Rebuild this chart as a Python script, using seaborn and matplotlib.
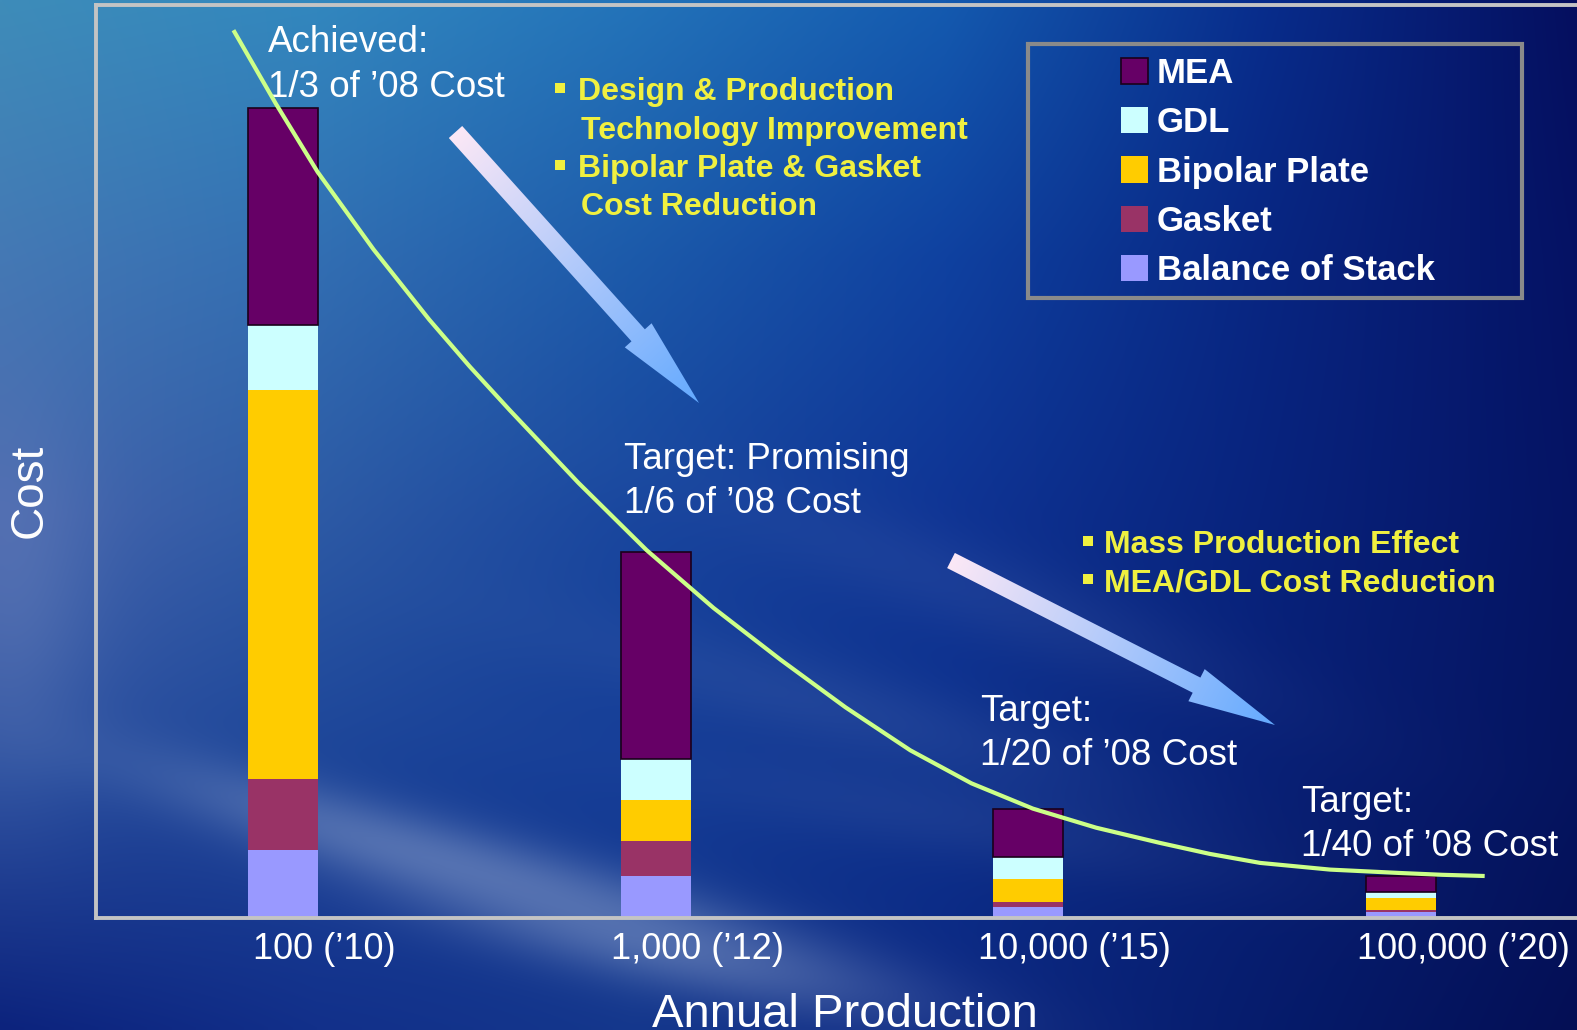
import numpy as np
import pandas as pd
import matplotlib
matplotlib.use("Agg")
import matplotlib.pyplot as plt
import seaborn as sns
from matplotlib.patches import Polygon, Rectangle

# ---------------- data ----------------
production_labels = ["100 (\u201910)", "1,000 (\u201912)", "10,000 (\u201915)", "100,000 (\u201920)"]
stack_order = ["Balance of Stack", "Gasket", "Bipolar Plate", "GDL", "MEA"]      # bottom -> top
legend_order = ["MEA", "GDL", "Bipolar Plate", "Gasket", "Balance of Stack"]
balance_of_stack = [68, 42, 11, 6.5]
gasket = [71.5, 35, 5, 2]
bipolar_plate = [388.5, 41, 23, 12]
gdl = [64.7, 40.7, 22, 5.3]
mea = [217, 207.6, 47.7, 16]
# cost trend curve (x in category units, y in cost units)
trend_x = [-0.133, -0.020, 0.093, 0.243, 0.393, 0.501, 0.609, 0.793, 0.976, 1.156,
           1.336, 1.510, 1.684, 1.848, 2.013, 2.183, 2.353, 2.488, 2.623, 2.811,
           2.999, 3.112, 3.226]
trend_y = [887.8, 814.8, 746.0, 668.6, 598.2, 551.6, 507.7, 435.2, 367.9, 310.0,
           258.2, 210.7, 167.7, 134.7, 109.4, 90.3, 75.2, 64.1, 55.1, 48.4,
           45.0, 43.2, 42.0]

component_colors = {"MEA": "#660066", "GDL": "#ccffff", "Bipolar Plate": "#ffcc00",
                    "Gasket": "#993366", "Balance of Stack": "#9999ff"}

df = pd.DataFrame({"production": production_labels,
                   "Balance of Stack": balance_of_stack, "Gasket": gasket,
                   "Bipolar Plate": bipolar_plate, "GDL": gdl, "MEA": mea})

# ---------------- figure ----------------
plt.rcParams["font.family"] = ["Liberation Sans", "DejaVu Sans"]
W, H = 1577, 1030
fig = plt.figure(figsize=(W / 100, H / 100), dpi=100)

# background (sky gradient) axes in pixel coordinates
ax_bg = fig.add_axes([0, 0, 1, 1], zorder=0)
ax_bg.axis("off")

grid = np.array([
    [(62, 140, 185), (50, 135, 190), (35, 115, 185), (20, 90, 175), (8, 45, 140), (5, 15, 95)],
    [(68, 120, 180), (50, 110, 178), (28, 90, 170), (15, 65, 160), (8, 38, 130), (5, 18, 100)],
    [(70, 100, 172), (45, 90, 165), (25, 70, 158), (15, 52, 148), (8, 35, 125), (5, 20, 100)],
    [(42, 78, 158), (28, 68, 152), (20, 60, 150), (12, 48, 140), (8, 32, 118), (5, 20, 95)],
    [(12, 35, 125), (18, 48, 138), (20, 55, 140), (12, 40, 130), (6, 28, 108), (4, 15, 85)],
], dtype=float) / 255.0


def bilinear(g, h, w):
    r, c, _ = g.shape
    yy = np.linspace(0, r - 1, h)
    xx = np.linspace(0, c - 1, w)
    y0 = np.clip(np.floor(yy).astype(int), 0, r - 2)
    x0 = np.clip(np.floor(xx).astype(int), 0, c - 2)
    fy = (yy - y0)[:, None, None]
    fx = (xx - x0)[None, :, None]
    g00 = g[y0][:, x0]
    g01 = g[y0][:, x0 + 1]
    g10 = g[y0 + 1][:, x0]
    g11 = g[y0 + 1][:, x0 + 1]
    return g00 * (1 - fx) * (1 - fy) + g01 * fx * (1 - fy) + g10 * (1 - fx) * fy + g11 * fx * fy


bh, bw = 206, 316
bg = bilinear(grid, bh, bw)
PX, PY = np.meshgrid(np.linspace(0, W, bw), np.linspace(0, H, bh))
cloud_col = np.array([175, 192, 222]) / 255.0
clouds = [  # cx, cy, sx, sy, angle(deg), strength
    (520, 880, 200, 28, 15, 0.30),
    (670, 955, 180, 28, 12, 0.30),
    (330, 830, 150, 26, 18, 0.20),
    (850, 712, 200, 32, 15, 0.10),
    (15, 600, 55, 130, 0, 0.16),
    (1000, 600, 200, 32, 20, 0.08),
    (950, 820, 200, 28, 10, 0.08),
]
for cx, cy, sx, sy, ang, a in clouds:
    th = np.deg2rad(ang)
    dx, dy = PX - cx, PY - cy
    u = dx * np.cos(th) + dy * np.sin(th)
    v = -dx * np.sin(th) + dy * np.cos(th)
    gm = (a * np.exp(-(u ** 2 / (2 * sx ** 2) + v ** 2 / (2 * sy ** 2))))[..., None]
    bg = bg * (1 - gm) + cloud_col * gm
ax_bg.imshow(np.clip(bg, 0, 1), extent=(0, W, H, 0), aspect="auto",
             interpolation="bilinear", zorder=0)


def gradient_arrow(axb, tail, tip, shaft_w, head_w, head_len, c_tail, c_tip):
    tail = np.array(tail, float)
    tip = np.array(tip, float)
    d = tip - tail
    L = np.hypot(*d)
    u = d / L
    n = np.array([-u[1], u[0]])
    base = tip - u * head_len
    pts = [tail + n * shaft_w / 2, base + n * shaft_w / 2, base + n * head_w / 2, tip,
           base - n * head_w / 2, base - n * shaft_w / 2, tail - n * shaft_w / 2]
    poly = Polygon(pts, closed=True, facecolor="none", edgecolor="none")
    axb.add_patch(poly)
    xs = [p[0] for p in pts]
    ys = [p[1] for p in pts]
    x0, x1, y0, y1 = min(xs), max(xs), min(ys), max(ys)
    X, Y = np.meshgrid(np.linspace(x0, x1, int(x1 - x0) + 1), np.linspace(y0, y1, int(y1 - y0) + 1))
    t = np.clip(((X - tail[0]) * u[0] + (Y - tail[1]) * u[1]) / L, 0, 1)[..., None]
    img = np.array(c_tail) / 255.0 * (1 - t) + np.array(c_tip) / 255.0 * t
    im = axb.imshow(img, extent=(x0, x1, y1, y0), origin="upper", aspect="auto",
                    interpolation="bilinear", zorder=2)
    im.set_clip_path(poly)


gradient_arrow(ax_bg, (455.5, 132), (699, 403), 18, 36, 91, (252, 232, 246), (100, 170, 255))
gradient_arrow(ax_bg, (951, 560.5), (1275, 725), 17, 36, 88, (252, 232, 246), (100, 170, 255))

# legend frame
ax_bg.add_patch(Rectangle((1028, 44), 494, 254, fill=False, edgecolor="#8a8a8a", lw=3, zorder=3))

white_txt = dict(color="white", fontsize=26.5, va="baseline", ha="left", zorder=4)
ax_bg.text(267.5, 52, "Achieved:", **white_txt)
ax_bg.text(267.5, 97, "1/3 of \u201908 Cost", **white_txt)
ax_bg.text(623.5, 469, "Target: Promising", **white_txt)
ax_bg.text(623.5, 513, "1/6 of \u201908 Cost", **white_txt)
ax_bg.text(980.5, 721, "Target:", **white_txt)
ax_bg.text(980.5, 765, "1/20 of \u201908 Cost", **white_txt)
ax_bg.text(1301, 812, "Target:", **white_txt)
ax_bg.text(1301, 856, "1/40 of \u201908 Cost", **white_txt)

yellow = "#f0f040"
yel = dict(color=yellow, fontsize=23, fontweight="bold", va="baseline", ha="left", zorder=4)
for xb, xt, yb, s, bullet in [
        (555, 578, 100, "Design & Production", True),
        (555, 581, 139, "Technology Improvement", False),
        (555, 578, 177, "Bipolar Plate & Gasket", True),
        (555, 581, 215, "Cost Reduction", False),
        (1083, 1104, 553, "Mass Production Effect", True),
        (1083, 1104, 591, "MEA/GDL Cost Reduction", True)]:
    if bullet:
        ax_bg.add_patch(Rectangle((xb, yb - 17), 9.5, 9.5, facecolor=yellow,
                                  edgecolor="none", zorder=4))
    ax_bg.text(xt, yb, s, **yel)

ax_bg.text(845, 1027, "Annual Production", color="white", fontsize=34, ha="center",
           va="baseline", zorder=4)
ax_bg.text(30, 491, "Cost", color="white", fontsize=33, rotation=90, ha="center",
           va="center", zorder=4)
ax_bg.set_xlim(0, W)
ax_bg.set_ylim(H, 0)

# ---------------- main axes ----------------
ax_left, ax_right, ax_top, ax_bottom = 96, 1640, 5, 918
ax = fig.add_axes([ax_left / W, (H - ax_bottom) / H, (ax_right - ax_left) / W,
                   (ax_bottom - ax_top) / H], zorder=1)
ax.patch.set_alpha(0)

bar_width = 70 / 372.5
bottom = np.zeros(len(production_labels))
for comp in stack_order:
    vals = df[comp].to_numpy(dtype=float)
    is_mea = comp == "MEA"
    sns.barplot(data=df, x="production", y=comp, order=production_labels,
                color=component_colors[comp], saturation=1, width=bar_width,
                errorbar=None, bottom=bottom.copy(), ax=ax,
                edgecolor="#1a001a" if is_mea else "none", linewidth=1.2 if is_mea else 0,
                zorder=2)
    bottom = bottom + vals

sns.lineplot(x=trend_x, y=trend_y, ax=ax, color="#ccff88", lw=3, sort=False,
             estimator=None, zorder=3, solid_joinstyle="round", solid_capstyle="butt")

x0_px = 283
ax.set_xlim(-(x0_px - ax_left) / 372.5, (ax_right - x0_px) / 372.5)
ax.set_ylim(0, ax_bottom - ax_top)
label_offsets = [0.11, 0.114, 0.126, 0.168]
ax.set_xticks([i + o for i, o in enumerate(label_offsets)])
ax.set_xticklabels(production_labels)
ax.tick_params(axis="x", length=0, pad=10, labelcolor="white", labelsize=26)
ax.tick_params(axis="y", left=False, labelleft=False)
ax.set_xlabel("")
ax.set_ylabel("")
ax.grid(False)
for side in ["left", "top", "bottom"]:
    ax.spines[side].set_color("#c4c4c4")
    ax.spines[side].set_linewidth(2.8)
ax.spines["right"].set_visible(False)

handles = [Rectangle((0, 0), 1, 1, facecolor=component_colors[c],
                     edgecolor="#1a001a" if c == "MEA" else "none", lw=1.2)
           for c in legend_order]
leg = ax.legend(handles, legend_order, loc="upper left",
                bbox_to_anchor=(1121 / W, 1 - 57 / H), bbox_transform=fig.transFigure,
                frameon=False, labelcolor="white",
                prop={"family": ["Liberation Sans"], "weight": "bold", "size": 25},
                handlelength=0.78, handleheight=0.78, handletextpad=0.25,
                labelspacing=0.47, borderpad=0, borderaxespad=0)

fig.savefig("out.png", dpi=100)
